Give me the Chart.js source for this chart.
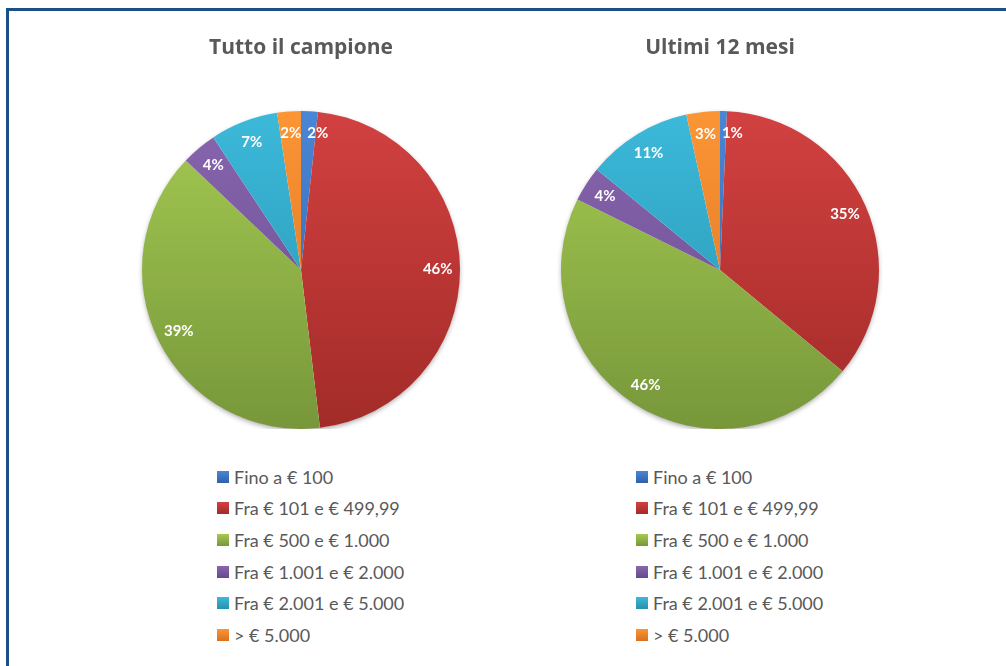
<!DOCTYPE html>
<html lang="it">
<head>
<meta charset="utf-8">
<title>Importi</title>
<script src="https://cdn.jsdelivr.net/npm/chart.js@4.4.1/dist/chart.umd.min.js"></script>
<style>
  html, body { margin: 0; padding: 0; background: #fff; }
  body { width: 1006px; height: 666px; position: relative; overflow: hidden; font-family: Lato, "Open Sans", sans-serif; }
  .cornice { position: absolute; left: 6px; top: 8px; width: 1010px; height: 700px; border: 3px solid #1c4f86; box-sizing: border-box; }
  .grafico { position: absolute; top: 0; width: 420px; height: 429px; }
  .legenda { position: absolute; top: 461px; margin: 0; padding: 0; list-style: none; color: #595959; font-size: 18px; }
  .legenda li { height: 31.6px; display: flex; align-items: center; white-space: nowrap; }
  .legenda span { display: inline-block; width: 12px; height: 12px; margin-right: 5px; }
</style>
</head>
<body>
<div class="cornice"></div>
<div class="grafico" style="left:91px"><canvas id="chartCampione"></canvas></div>
<div class="grafico" style="left:510px"><canvas id="chart12Mesi"></canvas></div>
<ul class="legenda" id="legCampione" style="left:217px"></ul>
<ul class="legenda" id="leg12Mesi" style="left:636px"></ul>
<script>
const categorie = ['Fino a € 100', 'Fra € 101 e € 499,99', 'Fra € 500 e € 1.000', 'Fra € 1.001 e € 2.000', 'Fra € 2.001 e € 5.000', '> € 5.000'];
const valoriCampione = [1.7, 46.4, 39.0, 3.6, 6.9, 2.4];
const valori12Mesi = [0.7, 35.3, 46.3, 3.6, 10.7, 3.4];
const coloriChiari = ['#4a86d6', '#d24141', '#a5ca52', '#8966b0', '#3cb9da', '#fb9535'];
const coloriScuri = ['#2f61a8', '#a22b28', '#77973a', '#654a8a', '#2791ad', '#d9701f'];
const titoli = ['Tutto il campione', 'Ultimi 12 mesi'];

// sfumatura verticale sul disco intero
function sfumatura(ctx) {
  const i = ctx.dataIndex;
  const a = ctx.chart.chartArea;
  if (!a) return coloriChiari[i];
  const cy = (a.top + a.bottom) / 2, r = Math.min(a.width, a.height) / 2;
  const g = ctx.chart.ctx.createLinearGradient(0, cy - r, 0, cy + r);
  g.addColorStop(0, coloriChiari[i]);
  g.addColorStop(1, coloriScuri[i]);
  return g;
}

// ombra leggera sotto la torta
const ombra = {
  id: 'ombra',
  beforeDatasetsDraw(chart) {
    const arc = chart.getDatasetMeta(0).data[0];
    if (!arc) return;
    const c = chart.ctx;
    c.save();
    c.shadowColor = 'rgba(0,0,0,0.35)';
    c.shadowBlur = 5;
    c.shadowOffsetY = 2;
    c.fillStyle = '#ffffff';
    c.beginPath();
    c.arc(arc.x, arc.y, arc.outerRadius - 0.5, 0, Math.PI * 2);
    c.fill();
    c.restore();
  }
};

// etichette percentuali dentro le fette (con spostamento se si sovrappongono)
const etichette = {
  id: 'etichette',
  afterDatasetsDraw(chart) {
    const c = chart.ctx;
    const valori = chart.data.datasets[0].data;
    c.save();
    c.font = 'bold 15px Lato, "Open Sans", sans-serif';
    c.fillStyle = '#ffffff';
    c.textAlign = 'center';
    c.textBaseline = 'middle';
    const pos = chart.getDatasetMeta(0).data.map((arc, i) => {
      const mezzo = (arc.startAngle + arc.endAngle) / 2;
      const d = arc.outerRadius * 0.86;
      const testo = Math.round(valori[i]) + '%';
      return { testo, x: arc.x + Math.cos(mezzo) * d, y: arc.y + Math.sin(mezzo) * d, w: c.measureText(testo).width };
    });
    for (let i = 0; i < pos.length; i++) {
      for (let j = 0; j < pos.length; j++) {
        if (i === j) continue;
        const a = pos[i], b = pos[j];
        if (a.x >= b.x && Math.abs(a.y - b.y) < 16) {
          const minimo = (a.w + b.w) / 2 + 6;
          if (a.x - b.x < minimo) a.x = b.x + minimo;
        }
      }
    }
    pos.forEach(p => c.fillText(p.testo, p.x, p.y));
    c.restore();
  }
};

function creaTorta(idCanvas, idLegenda, titolo, valori) {
  new Chart(document.getElementById(idCanvas), {
    type: 'pie',
    data: {
      labels: categorie,
      datasets: [{ data: valori, backgroundColor: sfumatura, borderWidth: 0, hoverOffset: 0 }]
    },
    options: {
      responsive: true,
      maintainAspectRatio: false,
      animation: false,
      events: [],
      layout: { padding: 0 },
      plugins: {
        legend: { display: false },
        tooltip: { enabled: false },
        title: {
          display: true,
          text: titolo,
          color: '#595959',
          font: { family: '"Open Sans", Lato, sans-serif', size: 21, weight: 'bold' },
          padding: { top: 35.4, bottom: 50.4 }
        }
      }
    },
    plugins: [ombra, etichette]
  });

  document.getElementById(idLegenda).innerHTML = categorie.map((cat, i) =>
    `<li><span style="background:linear-gradient(${coloriChiari[i]}, ${coloriScuri[i]})"></span>${cat}</li>`
  ).join('');
}

creaTorta('chartCampione', 'legCampione', titoli[0], valoriCampione);
creaTorta('chart12Mesi', 'leg12Mesi', titoli[1], valori12Mesi);
</script>
</body>
</html>
